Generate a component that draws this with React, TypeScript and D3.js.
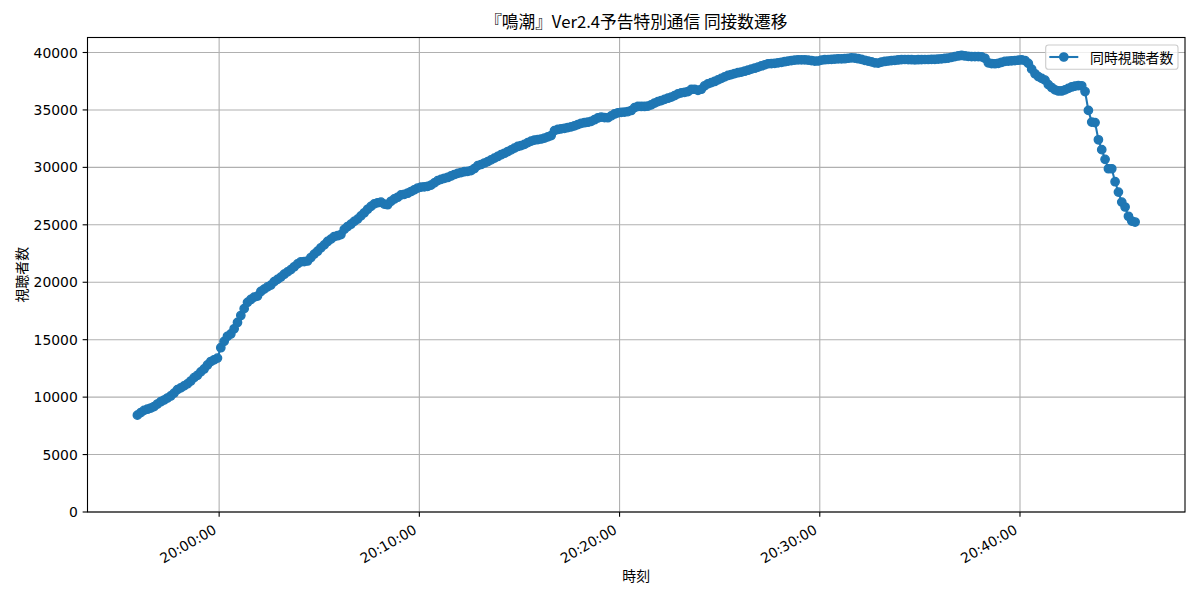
import React from "react";
import * as d3 from "d3";

// ---- data ----
const START_TIME = "19:55:55";
const SAMPLE_SECONDS = 10;
const viewers: number[] = [
  8430, 8650, 8850, 8950, 9050, 9180, 9400, 9600, 9750, 9920,
  10100, 10350, 10650, 10800, 10980, 11150, 11400, 11700, 11900, 12200,
  12450, 12800, 13100, 13250, 13400, 14300, 14850, 15300, 15500, 15950,
  16500, 17100, 17700, 18250, 18500, 18700, 18800, 19200, 19400, 19600,
  19750, 20050, 20250, 20450, 20700, 20900, 21100, 21350, 21600, 21780,
  21800, 21850, 22150, 22450, 22700, 23000, 23250, 23550, 23750, 23980,
  24050, 24150, 24600, 24850, 25050, 25300, 25500, 25780, 26050, 26350,
  26600, 26820, 26920, 26980, 26800, 26750, 27050, 27250, 27400, 27600,
  27650, 27750, 27900, 28050, 28200, 28280, 28300, 28350, 28450, 28650,
  28850, 28950, 29050, 29120, 29250, 29380, 29480, 29550, 29620, 29660,
  29720, 29900, 30150, 30250, 30380, 30500, 30650, 30800, 30950, 31100,
  31230, 31380, 31520, 31680, 31820, 31900, 32000, 32150, 32280, 32380,
  32420, 32470, 32550, 32650, 32770, 33200, 33300, 33350, 33400, 33470,
  33530, 33620, 33730, 33840, 33890, 33930, 34000, 34150, 34300, 34380,
  34340, 34320, 34480, 34650, 34750, 34790, 34810, 34850, 34950, 35200,
  35300, 35300, 35300, 35330, 35450, 35600, 35720, 35820, 35920, 36020,
  36120, 36250, 36400, 36480, 36530, 36600, 36780, 36800, 36700, 36800,
  37100, 37280, 37380, 37480, 37620, 37750, 37880, 38000, 38080, 38170,
  38240, 38300, 38370, 38460, 38550, 38630, 38730, 38830, 38930, 39020,
  39040, 39060, 39100, 39150, 39200, 39250, 39300, 39340, 39360, 39360,
  39360, 39340, 39300, 39250, 39260, 39340, 39370, 39390, 39410, 39420,
  39440, 39450, 39460, 39500, 39530, 39520, 39460, 39400, 39320, 39250,
  39180, 39100, 39080, 39170, 39220, 39260, 39300, 39320, 39350, 39380,
  39390, 39380, 39370, 39360, 39370, 39380, 39390, 39390, 39400, 39410,
  39430, 39450, 39480, 39520, 39580, 39640, 39700, 39740, 39700, 39660,
  39650, 39650, 39650, 39620, 39500, 39100, 39030, 39020, 39060, 39150,
  39230, 39250, 39280, 39300, 39330, 39360, 39300, 39050, 38550, 38150,
  37900, 37750, 37600, 37200, 36950, 36750, 36650, 36650, 36750, 36880,
  37000, 37080, 37120, 37100, 36600, 34960, 33940, 33900, 32400, 31540,
  30700, 29880, 29880, 28750, 27850, 26980, 26550, 25740, 25330, 25240,
];
const xTickLabels = ["20:00:00", "20:10:00", "20:20:00", "20:30:00", "20:40:00"];
const yTicks = [0, 5000, 10000, 15000, 20000, 25000, 30000, 35000, 40000];
const TITLE = "『鳴潮』Ver2.4予告特別通信 同接数遷移";
const X_LABEL = "時刻";
const Y_LABEL = "視聴者数";
const SERIES_NAME = "同時視聴者数";

// ---- layout / style ----
const W = 1200, H = 600;
const L = 87.5, R = 1185, T = 37.5, B = 512;
const BLUE = "#1f77b4";
const LATIN = "'DejaVu Sans', sans-serif";
const CJK = "'Noto Sans CJK JP', 'DejaVu Sans', sans-serif";
const MARKER_R = 4.17;
const MARKER_EDGE = 1.39;

const parseT = d3.timeParse("%H:%M:%S");

export default function App() {
  const t0 = parseT(START_TIME)!;
  const data = viewers.map((v, i) => ({ t: d3.timeSecond.offset(t0, i * SAMPLE_SECONDS), v }));
  const [tMin, tMax] = d3.extent(data, (d) => d.t) as [Date, Date];
  const span = +tMax - +tMin;
  const x = d3
    .scaleTime()
    .domain([new Date(+tMin - 0.05 * span), new Date(+tMax + 0.05 * span)])
    .range([L, R]);
  const vMin = d3.min(viewers)!, vMax = d3.max(viewers)!;
  const y = d3.scaleLinear().domain([0, vMax + 0.05 * (vMax - vMin)]).range([B, T]);

  const line = d3
    .line<{ t: Date; v: number }>()
    .x((d) => x(d.t))
    .y((d) => y(d.v));

  const xTicks = xTickLabels.map((s) => ({ s, t: parseT(s)! }));

  return (
    <svg
      width={W}
      height={H}
      style={{ position: "absolute", left: 0, top: 0, background: "#fff" }}
    >
      <rect x={0} y={0} width={W} height={H} fill="#fff" />
      {/* grid */}
      {xTicks.map((d) => (
        <line key={"gx" + d.s} x1={x(d.t)} x2={x(d.t)} y1={T} y2={B} stroke="#b0b0b0" strokeWidth={1.1} />
      ))}
      {yTicks.map((v) => (
        <line key={"gy" + v} x1={L} x2={R} y1={y(v)} y2={y(v)} stroke="#b0b0b0" strokeWidth={1.1} />
      ))}
      {/* series */}
      <path d={line(data) ?? ""} fill="none" stroke={BLUE} strokeWidth={2.08} />
      {data.map((d, i) => (
        <circle key={i} cx={x(d.t)} cy={y(d.v)} r={MARKER_R} fill={BLUE} stroke={BLUE} strokeWidth={MARKER_EDGE} />
      ))}
      {/* spines */}
      <rect x={L} y={T} width={R - L} height={B - T} fill="none" stroke="#000" strokeWidth={1.1} />
      {/* x ticks */}
      {xTicks.map((d) => {
        const px = x(d.t);
        return (
          <g key={"xt" + d.s}>
            <line x1={px} x2={px} y1={B} y2={B + 4.86} stroke="#000" strokeWidth={1.1} />
            <text
              x={px - 1.6}
              y={532.5}
              transform={`rotate(-30, ${px - 1.6}, 532.5)`}
              textAnchor="end"
              fontFamily={LATIN}
              fontSize={13.9}
              fill="#000"
            >
              {d.s}
            </text>
          </g>
        );
      })}
      {/* y ticks */}
      {yTicks.map((v) => (
        <g key={"yt" + v}>
          <line x1={L - 4.86} x2={L} y1={y(v)} y2={y(v)} stroke="#000" strokeWidth={1.1} />
          <text
            x={L - 9.72}
            y={y(v)}
            dy="0.36em"
            textAnchor="end"
            fontFamily={LATIN}
            fontSize={13.9}
            fill="#000"
          >
            {v}
          </text>
        </g>
      ))}
      {/* labels */}
      <text x={(L + R) / 2} y={28} textAnchor="middle" fontFamily={CJK} fontSize={16.7} fill="#000">
        {TITLE}
      </text>
      <text x={(L + R) / 2} y={581} textAnchor="middle" fontFamily={CJK} fontSize={13.9} fill="#000">
        {X_LABEL}
      </text>
      <text
        x={21}
        y={(T + B) / 2}
        transform={`rotate(-90, 21, ${(T + B) / 2})`}
        textAnchor="middle"
        dominantBaseline="central"
        fontFamily={CJK}
        fontSize={13.9}
        fill="#000"
      >
        {Y_LABEL}
      </text>
      {/* legend */}
      <g>
        <rect x={1045.7} y={45} width={132.3} height={24.3} rx={2.8} fill="#fff" fillOpacity={0.8} stroke="#cccccc" strokeWidth={1.1} />
        <line x1={1049.3} x2={1078.3} y1={57} y2={57} stroke={BLUE} strokeWidth={2.08} />
        <circle cx={1063.8} cy={57} r={MARKER_R} fill={BLUE} stroke={BLUE} strokeWidth={MARKER_EDGE} />
        <text x={1090} y={57} dominantBaseline="central" fontFamily={CJK} fontSize={13.9} fill="#000">
          {SERIES_NAME}
        </text>
      </g>
    </svg>
  );
}
